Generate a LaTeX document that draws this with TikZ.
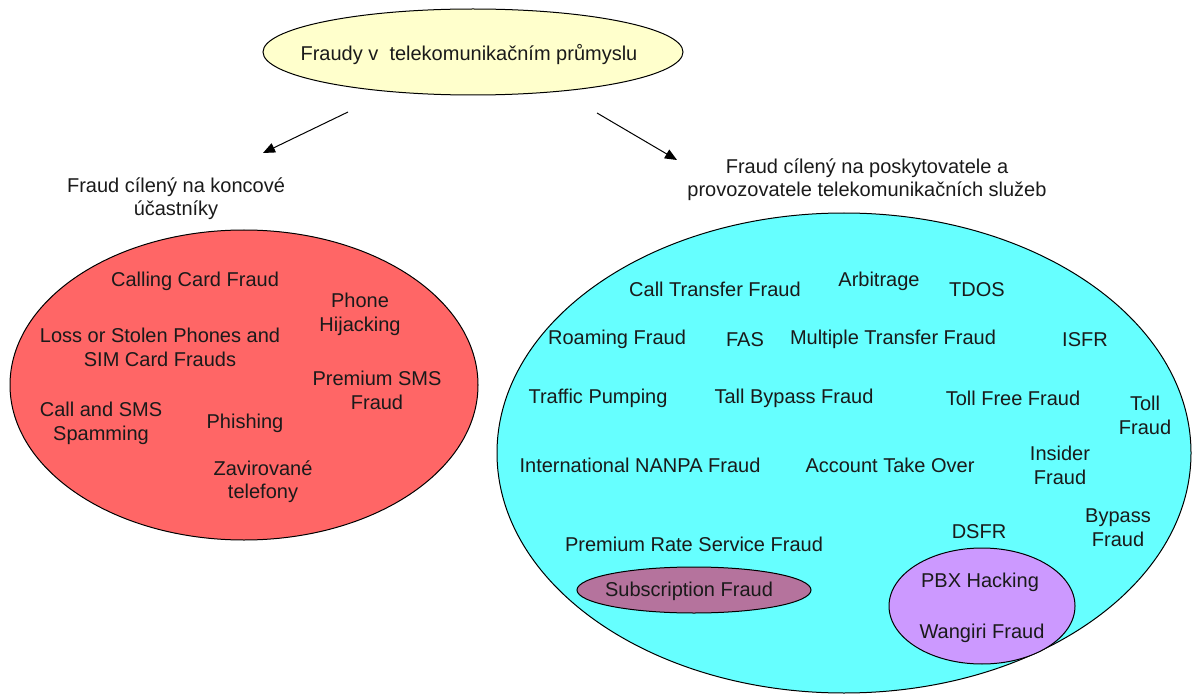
\documentclass[tikz,border=0pt]{standalone}
\usepackage{fontspec}
\setmainfont{Liberation Sans}
\usetikzlibrary{shapes.geometric,arrows.meta}
\definecolor{cyellow}{HTML}{FFFFCC}
\definecolor{cred}{HTML}{FF6666}
\definecolor{ccyan}{HTML}{66FFFF}
\definecolor{cmauve}{HTML}{B5739D}
\definecolor{clav}{HTML}{CC99FF}
\definecolor{ctext}{HTML}{1A1A1A}
\tikzset{
  txt/.style={font=\fontsize{20}{23.5}\selectfont, text=ctext, align=center, inner sep=0pt, yshift=-1.5pt},
  blob/.style={draw=black, line width=1pt, ellipse, inner sep=0pt},
  arr/.style={draw=black, line width=1pt, -{Triangle[length=12pt,width=10pt]}}
}
\begin{document}
\begin{tikzpicture}[x=1pt,y=-1pt]
\useasboundingbox (0,0) rectangle (1192,695);
% top
\node[blob, fill=cyellow, minimum width=420pt, minimum height=86pt] (top) at (473,52) {};
\node[txt] (toptxt) at (469,53) {Fraudy v\ \ telekomunikačním průmyslu};
% arrows
\coordinate (a1s) at (348,112);
\coordinate (a1e) at (263,153);
\coordinate (a2s) at (597,113);
\coordinate (a2e) at (677,160);
\draw[arr] (a1s) -- (a1e);
\draw[arr] (a2s) -- (a2e);
% labels
\node[txt] (lab1) at (176,197) {Fraud cílený na koncové\\účastníky};
\node[txt] (lab2) at (867,178) {Fraud cílený na poskytovatele a\\provozovatele telekomunikačních služeb};
% red ellipse
\node[blob, fill=cred, minimum width=468pt, minimum height=310pt] (red) at (244,385) {};
\node[txt] (r1) at (195,280) {Calling Card Fraud};
\node[txt] (r2) at (360,313) {Phone\\Hijacking};
\node[txt] (r3) at (160,346) {Loss or Stolen Phones and\\SIM Card Frauds};
\node[txt] (r4) at (377,389) {Premium SMS\\Fraud};
\node[txt] (r5) at (101,422) {Call and SMS\\Spamming};
\node[txt] (r6) at (245,422) {Phishing};
\node[txt] (r7) at (263,480) {Zavirované\\telefony};
% cyan ellipse
\node[blob, fill=ccyan, minimum width=694pt, minimum height=480pt] (cyan) at (844,453) {};
\node[txt] (c1) at (715,288) {Call Transfer Fraud};
\node[txt] (c2) at (879,280) {Arbitrage};
\node[txt] (c3) at (977,288) {TDOS};
\node[txt] (c4) at (617,338) {Roaming Fraud};
\node[txt] (c5) at (745,338) {FAS};
\node[txt] (c6) at (893,338) {Multiple Transfer Fraud};
\node[txt] (c7) at (1085,338) {ISFR};
\node[txt] (c8) at (598,397) {Traffic Pumping};
\node[txt] (c9) at (794,397) {Tall Bypass Fraud};
\node[txt] (c10) at (1013,397) {Toll Free Fraud};
\node[txt] (c11) at (1145,414) {Toll\\Fraud};
\node[txt] (c12) at (640,464) {International NANPA Fraud};
\node[txt] (c13) at (890,464) {Account Take Over};
\node[txt] (c14) at (1060,464) {Insider\\Fraud};
\node[txt] (c15) at (979,530) {DSFR};
\node[txt] (c16) at (1118,526) {Bypass\\Fraud};
\node[txt] (c17) at (694,543) {Premium Rate Service Fraud};
% inner ellipses
\node[blob, fill=cmauve, minimum width=234pt, minimum height=46pt] (sub) at (694,590) {};
\node[txt] (subt) at (689,590) {Subscription Fraud};
\node[blob, fill=clav, minimum width=186pt, minimum height=116pt] (pbx) at (982,606) {};
\node[txt] (p1) at (980,581) {PBX Hacking};
\node[txt] (p2) at (982,632) {Wangiri Fraud};
\end{tikzpicture}
\end{document}
